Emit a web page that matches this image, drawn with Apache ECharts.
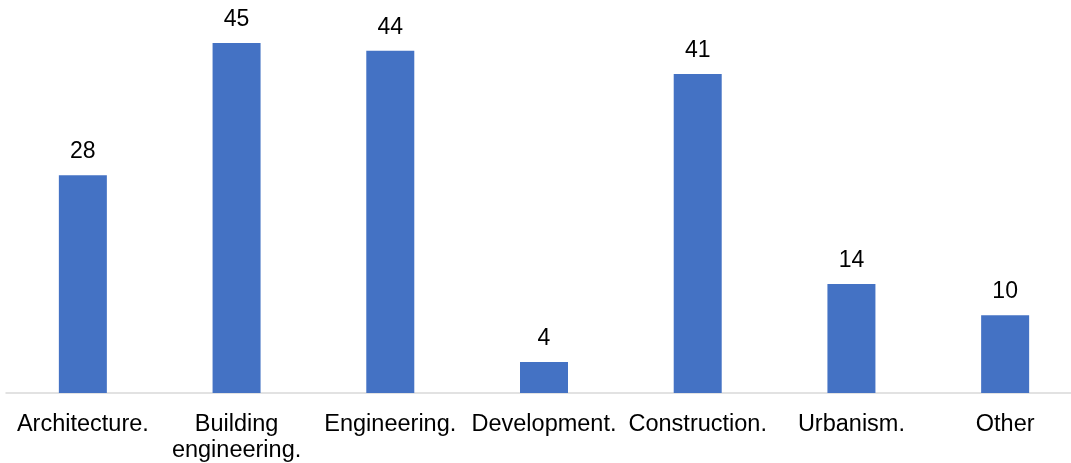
<!DOCTYPE html>
<html>
<head>
<meta charset="utf-8">
<script src="https://cdn.jsdelivr.net/npm/echarts@6/dist/echarts.min.js"></script>
<style>
  html, body { margin: 0; padding: 0; background: #ffffff; }
  #chart { width: 1071px; height: 463px; }
</style>
</head>
<body>
<div id="chart"></div>
<script>
// Count per field of study
const categories = ['Architecture.', 'Building\nengineering.', 'Engineering.', 'Development.', 'Construction.', 'Urbanism.', 'Other'];
const counts = [28, 45, 44, 4, 41, 14, 10];

const chart = echarts.init(document.getElementById('chart'), null, { renderer: 'canvas' });

chart.setOption({
  animation: false,
  backgroundColor: '#ffffff',
  grid: {
    left: 6, top: 43, width: 1076, height: 350,
    containLabel: false,
    outerBoundsMode: 'none'
  },
  xAxis: {
    type: 'category',
    data: categories,
    axisLine: { show: true, lineStyle: { color: '#d9d9d9', width: 1.5 } },
    axisTick: { show: false },
    axisLabel: {
      interval: 0,
      margin: 19,
      color: '#000000',
      fontFamily: 'Liberation Sans, Arial, sans-serif',
      fontSize: 23.5,
      lineHeight: 25.5
    }
  },
  yAxis: {
    type: 'value',
    min: 0,
    max: 45,
    show: false,
    splitLine: { show: false }
  },
  series: [{
    type: 'bar',
    data: counts,
    barWidth: 48,
    itemStyle: { color: '#4472c4' },
    label: {
      show: true,
      position: 'top',
      distance: 12,
      color: '#000000',
      fontFamily: 'Liberation Sans, Arial, sans-serif',
      fontSize: 23
    }
  }]
});
</script>
</body>
</html>
